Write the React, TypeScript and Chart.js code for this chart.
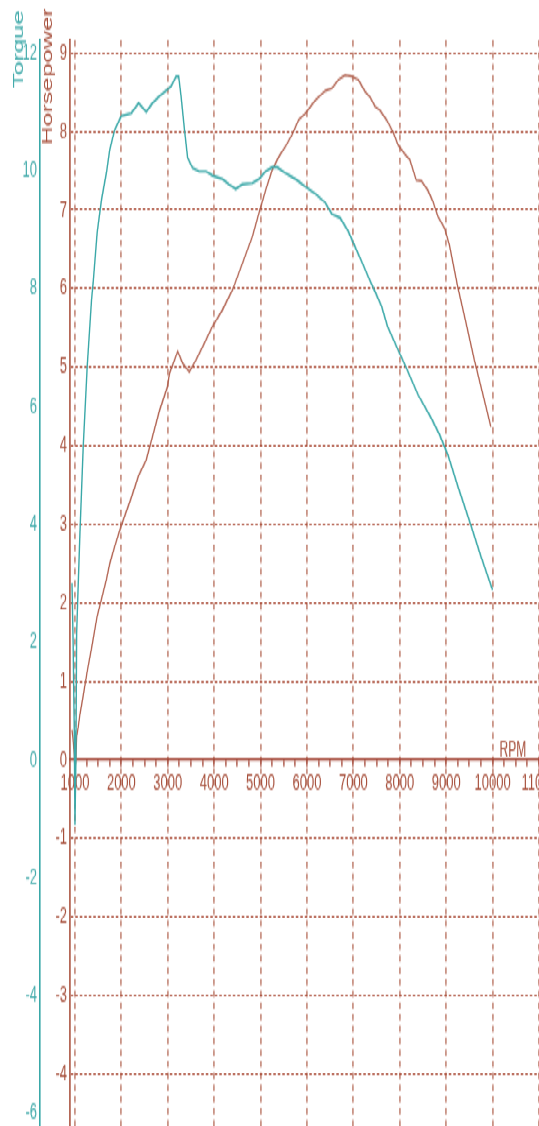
import { useEffect, useRef } from 'react';
import { Chart, registerables } from 'chart.js';

Chart.register(...registerables);

// ---- data ----
const torqueRpm = [936, 960, 985, 1000, 1020, 1036, 1071, 1107, 1178, 1264, 1357, 1392, 1478, 1572, 1679, 1750, 1857, 2001, 2215, 2371, 2536, 2671, 2822, 2993, 3072, 3179, 3235, 3287, 3357, 3428, 3535, 3679, 3822, 3964, 4178, 4322, 4465, 4607, 4821, 4964, 5107, 5250, 5357, 5537, 5751, 5965, 6180, 6394, 6536, 6715, 6893, 7037, 7179, 7322, 7465, 7607, 7735, 7964, 8136, 8393, 8672, 8858, 9036, 9250, 9500, 9750, 10000];
const torqueValues = [3.0, 2.0, 0.5, -1.1, 0.0, 2.15, 3.0, 3.85, 5.32, 6.68, 7.81, 8.1, 8.95, 9.51, 9.97, 10.36, 10.7, 10.93, 10.98, 11.15, 11.0, 11.15, 11.27, 11.38, 11.44, 11.6, 11.6, 11.26, 10.72, 10.22, 10.05, 9.99, 9.99, 9.92, 9.86, 9.77, 9.69, 9.77, 9.79, 9.86, 9.99, 10.06, 10.06, 9.96, 9.86, 9.73, 9.61, 9.46, 9.27, 9.2, 8.97, 8.71, 8.46, 8.2, 7.95, 7.7, 7.36, 6.96, 6.66, 6.2, 5.81, 5.52, 5.18, 4.65, 4.06, 3.45, 2.89];

const hpRpm = [936, 960, 985, 1000, 1020, 1036, 1071, 1107, 1178, 1264, 1357, 1478, 1572, 1679, 1750, 1857, 2001, 2215, 2371, 2536, 2671, 2822, 2993, 3036, 3214, 3321, 3464, 3607, 3750, 3964, 4178, 4393, 4607, 4821, 4964, 5107, 5250, 5393, 5537, 5679, 5821, 5965, 6180, 6394, 6536, 6679, 6822, 6964, 7107, 7251, 7358, 7465, 7572, 7714, 7850, 7964, 8100, 8215, 8357, 8464, 8607, 8715, 8822, 8965, 9072, 9250, 9428, 9608, 9822, 9964];
const hpValues = [0.38, 0.26, 0.07, -0.15, 0.0, 0.3, 0.42, 0.58, 0.82, 1.13, 1.42, 1.83, 2.05, 2.3, 2.5, 2.72, 2.99, 3.34, 3.62, 3.82, 4.12, 4.45, 4.75, 4.92, 5.2, 5.05, 4.94, 5.09, 5.26, 5.52, 5.73, 5.98, 6.32, 6.66, 6.96, 7.25, 7.51, 7.68, 7.81, 7.96, 8.15, 8.23, 8.4, 8.52, 8.55, 8.66, 8.72, 8.7, 8.66, 8.51, 8.44, 8.32, 8.27, 8.15, 8.0, 7.83, 7.72, 7.64, 7.38, 7.37, 7.25, 7.11, 6.92, 6.77, 6.55, 6.02, 5.56, 5.09, 4.58, 4.24];

const torqueTicks = [-6, -4, -2, 0, 2, 4, 6, 8, 10, 12];
const hpTicks = [-4, -3, -2, -1, 0, 1, 2, 3, 4, 5, 6, 7, 8, 9];
const rpmLabels = [1000, 2000, 3000, 4000, 5000, 6000, 7000, 8000, 9000, 10000, 11000];
const rpmMinorStep = 250;

const torqueRange = [-6.212, 12.216];
const hpRange = [-4.659, 9.162];
const rpmRange = [893, 11000];

const torqueTitle = 'Torque';
const hpTitle = 'Horsepower';
const rpmTitle = 'RPM';

// ---- styling ----
const W = 539;
const H = 643;
const STRETCH = 1126 / H;

const TEAL = '#3aa8a8';
const TEAL_TEXT = '#43abab';
const HP_LINE = '#b0604e';
const BROWN_AXIS = '#a04030';
const BROWN_TEXT = '#a64e3a';
const GRID_H = '#a6432e';
const GRID_V = 'rgba(192,128,112,0.85)';
const FONT = '"Liberation Sans", Arial, sans-serif';

const zeroPad = (s: any) => {
  s.paddingLeft = 0;
  s.paddingRight = 0;
  s.paddingTop = 0;
  s.paddingBottom = 0;
};

const titlesPlugin = {
  id: 'dynoTitles',
  afterDraw(chart: any) {
    const ctx = chart.ctx;
    const drawVertical = (text: string, x: number, y: number, color: string) => {
      ctx.save();
      ctx.translate(x, y);
      ctx.rotate(-Math.PI / 2);
      ctx.font = `14.5px ${FONT}`;
      ctx.textAlign = 'right';
      ctx.textBaseline = 'middle';
      ctx.fillStyle = color;
      ctx.fillText(text, 0, 0);
      ctx.restore();
    };
    drawVertical(torqueTitle, 18.5, 6, TEAL_TEXT);
    drawVertical(hpTitle, 48, 4.6, BROWN_TEXT);

    const xs = chart.scales.x;
    const hs = chart.scales.hp;
    ctx.save();
    ctx.font = `12px ${FONT}`;
    ctx.textAlign = 'left';
    ctx.textBaseline = 'alphabetic';
    ctx.fillStyle = BROWN_TEXT;
    ctx.fillText(rpmTitle, xs.getPixelForValue(rpmLabels[9]) + 7, hs.getPixelForValue(0) - 2.5);
    ctx.restore();
  },
};

export default function App() {
  const ref = useRef<HTMLCanvasElement>(null);

  useEffect(() => {
    if (!ref.current) return;
    const rpmTicks: number[] = [];
    for (let v = rpmLabels[0]; v <= rpmLabels[rpmLabels.length - 1]; v += rpmMinorStep) rpmTicks.push(v);

    const chart = new Chart(ref.current, {
      type: 'line',
      data: {
        datasets: [
          {
            label: torqueTitle,
            data: torqueRpm.map((x, i) => ({ x, y: torqueValues[i] })),
            yAxisID: 'torque',
            borderColor: TEAL,
            borderWidth: 1.4,
            pointRadius: 0,
            tension: 0,
          },
          {
            label: hpTitle,
            data: hpRpm.map((x, i) => ({ x, y: hpValues[i] })),
            yAxisID: 'hp',
            borderColor: HP_LINE,
            borderWidth: 1.25,
            pointRadius: 0,
            tension: 0,
          },
        ],
      },
      options: {
        responsive: false,
        animation: false,
        devicePixelRatio: 1,
        layout: { padding: { top: 23, left: 0, right: -2.7, bottom: 0 } },
        plugins: { legend: { display: false }, tooltip: { enabled: false } },
        events: [],
        scales: {
          x: {
            type: 'linear',
            min: rpmRange[0],
            max: rpmRange[1],
            position: { hp: 0 } as any,
            afterBuildTicks: (s: any) => {
              s.ticks = rpmTicks.map((value) => ({ value }));
            },
            afterFit: zeroPad,
            grid: {
              drawOnChartArea: true,
              drawTicks: true,
              tickLength: 3.5,
              tickWidth: 1.3,
              tickColor: BROWN_AXIS,
              lineWidth: 1.8,
              color: (c: any) => (c.tick && c.tick.value % 1000 === 0 ? GRID_V : 'rgba(0,0,0,0)'),
            },
            border: { display: true, color: BROWN_AXIS, width: 1.2, dash: [3.7, 3] },
            ticks: {
              autoSkip: false,
              maxRotation: 0,
              minRotation: 0,
              padding: 2.5,
              color: BROWN_TEXT,
              font: { family: FONT, size: 13 },
              callback: (v: any) => (rpmLabels.includes(Number(v)) ? String(v) : ''),
            },
          },
          torque: {
            type: 'linear',
            position: 'left',
            weight: 2,
            min: torqueRange[0],
            max: torqueRange[1],
            afterBuildTicks: (s: any) => {
              s.ticks = torqueTicks.map((value) => ({ value }));
            },
            afterFit: (s: any) => {
              s.width = 40;
              zeroPad(s);
            },
            grid: { display: false, drawTicks: false, drawOnChartArea: false },
            border: { display: true, color: TEAL, width: 1.6 },
            ticks: {
              padding: 3,
              color: TEAL_TEXT,
              font: { family: FONT, size: 13 },
              callback: (v: any) => String(v),
            },
          },
          hp: {
            type: 'linear',
            position: 'left',
            weight: 1,
            min: hpRange[0],
            max: hpRange[1],
            afterBuildTicks: (s: any) => {
              s.ticks = hpTicks.map((value) => ({ value }));
            },
            afterFit: (s: any) => {
              s.width = 30;
              zeroPad(s);
            },
            grid: {
              drawOnChartArea: true,
              drawTicks: false,
              color: GRID_H,
              lineWidth: 1.1,
            },
            border: { display: true, color: 'rgba(168,78,58,0.85)', width: 1.8, dash: [2.5, 2] },
            ticks: {
              padding: 3,
              color: BROWN_TEXT,
              font: { family: FONT, size: 13 },
              callback: (v: any) => String(v),
            },
          },
        },
      } as any,
      plugins: [titlesPlugin],
    });
    return () => chart.destroy();
  }, []);

  return (
    <div
      style={{
        position: 'absolute',
        left: 0,
        top: 0,
        width: W,
        height: H,
        transform: `scaleY(${STRETCH})`,
        transformOrigin: '0 0',
        background: '#fff',
      }}
    >
      <canvas ref={ref} width={W} height={H} style={{ display: 'block' }} />
    </div>
  );
}
